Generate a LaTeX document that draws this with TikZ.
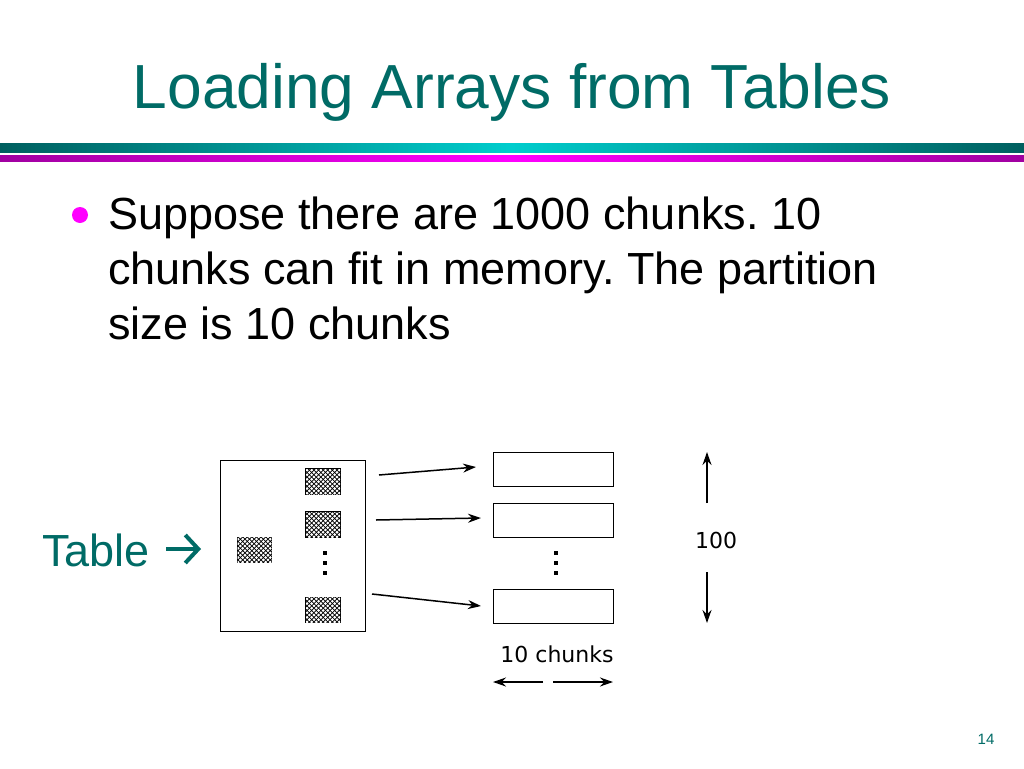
\documentclass[tikz,border=0pt]{standalone}
\usepackage{fontspec}
\setmainfont{Liberation Sans}
\newfontfamily\tahomafont{DejaVu Sans}
\usetikzlibrary{patterns,arrows.meta}
\frenchspacing
\pgfdeclarepatternformonly{holes}{\pgfpoint{-1pt}{-1pt}}{\pgfpoint{5pt}{5pt}}{\pgfpoint{4.6pt}{4.6pt}}{%
  \pgfpathcircle{\pgfpoint{1.15pt}{1.15pt}}{1.55pt}%
  \pgfpathcircle{\pgfpoint{3.45pt}{3.45pt}}{1.55pt}%
  \pgfusepath{fill}}
\definecolor{titleteal}{RGB}{0,107,102}
\definecolor{barteal}{RGB}{0,95,95}
\definecolor{barcyan}{RGB}{0,205,205}
\definecolor{barmagd}{RGB}{160,0,160}
\definecolor{barmag}{RGB}{255,0,255}
\tikzset{
  chunkbox/.style={draw=black, line width=1pt},
  patbox/.style={draw=black, line width=1.5pt, fill=black, postaction={pattern=holes, pattern color=white}},
  arr/.style={-{Stealth[length=13pt,width=9pt]}, line width=1.5pt},
  tabarrow/.style={draw=titleteal, line width=4pt, -{Straight Barb[length=13pt,width=28pt,line width=4pt]}},
  dot/.style={fill=black, minimum size=4pt, inner sep=0pt},
  small/.style={font=\tahomafont\fontsize{22}{26}\selectfont, inner sep=0pt},
  bodytext/.style={anchor=base west, font=\fontsize{45}{55}\selectfont, inner sep=0pt}
}
\begin{document}
\begin{tikzpicture}[x=1pt,y=-1pt]
\useasboundingbox[fill=white] (0,0) rectangle (1024,768);
% title
\node[text=titleteal, font=\fontsize{62.3}{70}\selectfont, anchor=base, inner sep=0pt] (title) at (512,108) {Loading Arrays from Tables};
% bars
\shade[left color=barteal, right color=barteal, middle color=barcyan] (0,143) rectangle (1024,152);
\shade[left color=barmagd, right color=barmagd, middle color=barmag] (0,155) rectangle (1024,161);
% bullet
\fill[barmag] (80,215) circle (8);
\node[bodytext] (l1) at (108,229) {Suppose there are 1000 chunks. 10};
\node[bodytext] (l2) at (108,284) {chunks can fit in memory. The partition};
\node[bodytext] (l3) at (108,339) {size is 10 chunks};
% table label
\node[anchor=base west, text=titleteal, font=\fontsize{45}{50}\selectfont, inner sep=0pt] (tbl) at (42,566) {Table};
\coordinate (ta0) at (166,549);
\coordinate (ta1) at (201,549);
\draw[tabarrow] (ta0) -- (ta1);
% table box
\draw[chunkbox] (220,460) rectangle (365,631);
\node[patbox, minimum width=34pt, minimum height=25pt, inner sep=0pt] (p1) at (323,481.5) {};
\node[patbox, minimum width=34pt, minimum height=25pt, inner sep=0pt] (p2) at (323,524.5) {};
\node[patbox, minimum width=34pt, minimum height=25pt, inner sep=0pt] (p3) at (323,610) {};
\node[patbox, minimum width=34pt, minimum height=25pt, inner sep=0pt] (p0) at (254.5,550) {};
\node[dot] (d1) at (325,553) {};
\node[dot] (d2) at (325,563) {};
\node[dot] (d3) at (325,573) {};
% right boxes
\node[chunkbox, minimum width=120pt, minimum height=34pt, inner sep=0pt] (r1) at (553,469) {};
\node[chunkbox, minimum width=120pt, minimum height=34pt, inner sep=0pt] (r2) at (553,520) {};
\node[chunkbox, minimum width=120pt, minimum height=34pt, inner sep=0pt] (r3) at (553,606) {};
\node[dot] (e1) at (556,553) {};
\node[dot] (e2) at (556,563) {};
\node[dot] (e3) at (556,573) {};
% arrows
\coordinate (a1s) at (379,475);
\coordinate (a1e) at (476,467);
\coordinate (a2s) at (376,520);
\coordinate (a2e) at (481,518);
\coordinate (a3s) at (372,594);
\coordinate (a3e) at (481,606);
\draw[arr] (a1s) -- (a1e);
\draw[arr] (a2s) -- (a2e);
\draw[arr] (a3s) -- (a3e);
% 10 chunks
\node[small, anchor=base] (ten) at (557,662) {10 chunks};
\coordinate (hl1) at (543,682);
\coordinate (hl2) at (493,682);
\coordinate (hr1) at (553,682);
\coordinate (hr2) at (613,682);
\draw[arr] (hl1) -- (hl2);
\draw[arr] (hr1) -- (hr2);
% 100
\node[small, anchor=base] (hundred) at (716,548) {100};
\coordinate (vu1) at (707,503);
\coordinate (vu2) at (707,452);
\coordinate (vd1) at (707,572);
\coordinate (vd2) at (707,623);
\draw[arr] (vu1) -- (vu2);
\draw[arr] (vd1) -- (vd2);
% page number
\node[anchor=base, text=titleteal, font=\fontsize{15}{18}\selectfont, inner sep=0pt] (pg) at (986,744) {14};
\end{tikzpicture}
\end{document}
